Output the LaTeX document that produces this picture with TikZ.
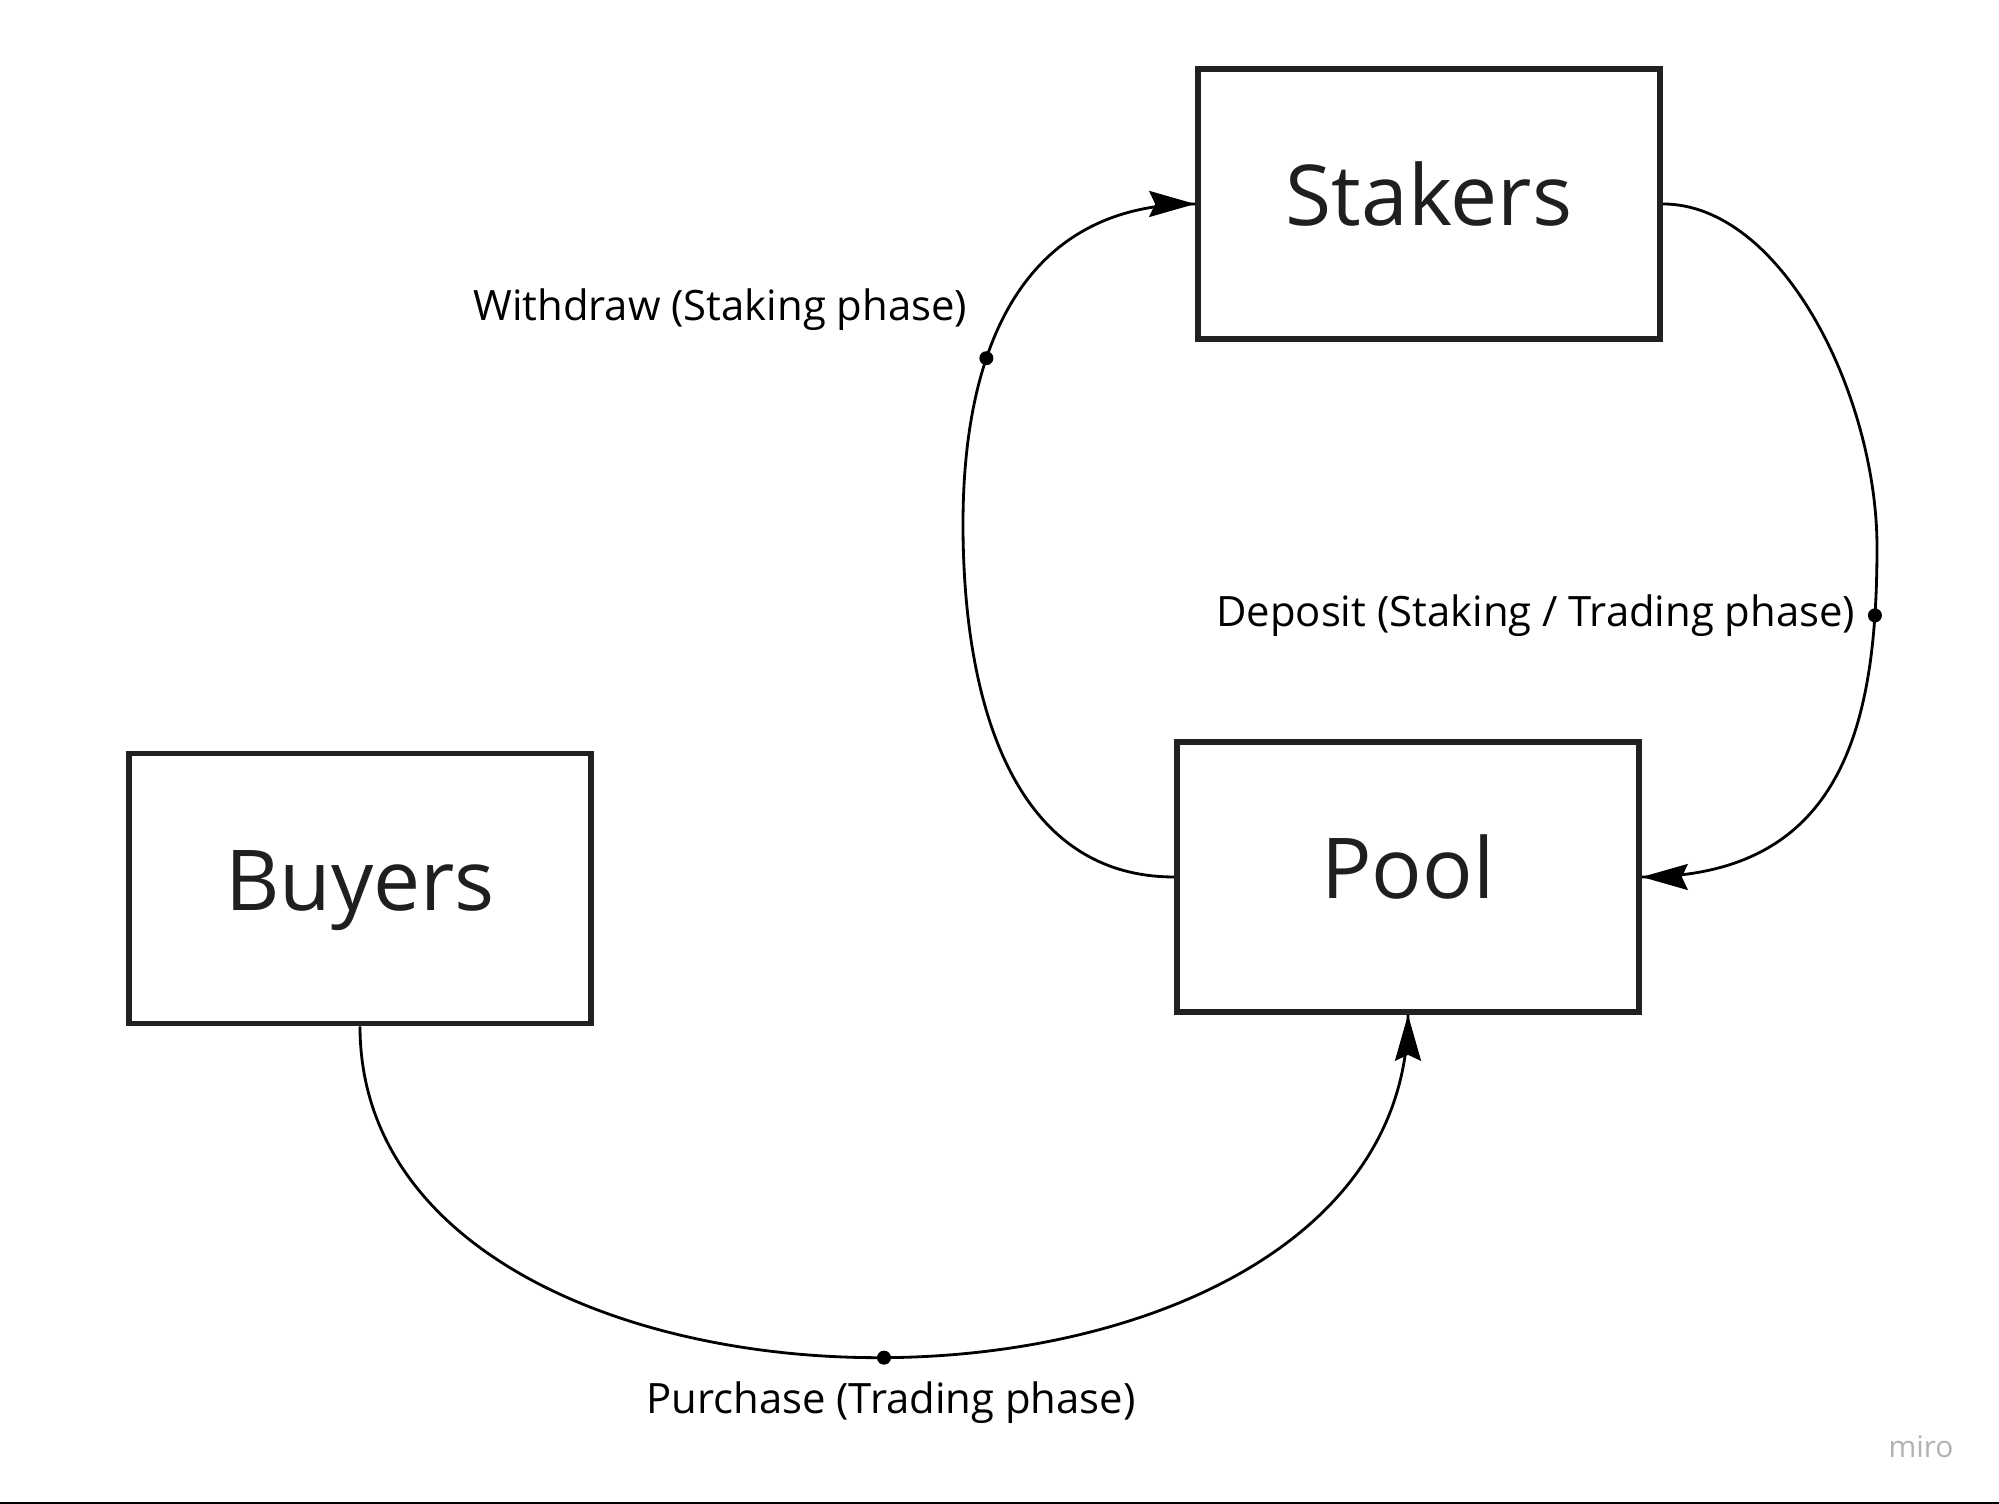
\documentclass[tikz,border=0pt]{standalone}
\usepackage{fontspec}
\setmainfont{Open Sans}
\usetikzlibrary{positioning,arrows.meta}

\begin{document}
\begin{tikzpicture}[
  box/.style={draw=black!87, line width=1.6pt, minimum width=4.62cm, minimum height=2.70cm, text=black!88, font=\fontsize{23.9}{28}\selectfont, text height=18.2pt, text depth=5.7pt},
  lbl/.style={font=\fontsize{11.9}{14}\selectfont, inner sep=0pt},
  flow/.style={line width=0.8pt},
  tip/.style={line width=0.8pt, -{Stealth[length=4.6mm,width=2.6mm,inset=0.6mm]}},
  dot/.style={circle, fill=black, inner sep=0pt, minimum size=1.4mm}
]
\useasboundingbox (0,0) rectangle (19.99,15.04);
\draw[line width=0.6pt] (0,0.01) -- (19.99,0.01);

% the three parties
\node[box] (stakers) at (14.29,13.00) {Stakers};
\node[box] (pool) at (14.08,6.27) {Pool};
\node[box] (buyers) at (3.60,6.155) {Buyers};

% turning points of the two loops
\coordinate (wmid) at (9.63,9.80);
\coordinate (dmid) at (18.77,9.57);

% flows
\draw[flow] (pool.west) .. controls +(-1.6,0) and +(0,-1.8) .. (wmid)
  .. controls +(0,1.8) and +(-1.7,0) .. node[dot, pos=0.34] (wdot) {} (stakers.west);
\draw[flow] (stakers.east) .. controls +(1.2,0) and +(0,1.5) .. (dmid)
  .. controls +(0,-1.8) and +(2.0,0) .. node[dot, pos=0.13] (ddot) {} (pool.east);
\draw[flow] (buyers.south) .. controls +(0,-4.44) and +(0,-4.55) .. node[dot, pos=0.5] (pdot) {} (pool.south);

% arrow heads
\draw[tip] ([xshift=-4mm]stakers.west) -- (stakers.west);
\draw[tip] ([xshift=4mm]pool.east) -- (pool.east);
\draw[tip] ([yshift=-4mm]pool.south) -- (pool.south);

\node[lbl, anchor=east] (wlbl) at (9.68,11.94) {Withdraw (Staking phase)};
\node[lbl, anchor=east] (dlbl) at (18.56,8.88) {Deposit (Staking / Trading phase)};
\node[lbl] (plbl) at (8.91,1.01) {Purchase (Trading phase)};

\node[text=black!30, font=\fontsize{8.5}{10}\selectfont] (miro) at (19.21,0.57) {miro};
\end{tikzpicture}
\end{document}
